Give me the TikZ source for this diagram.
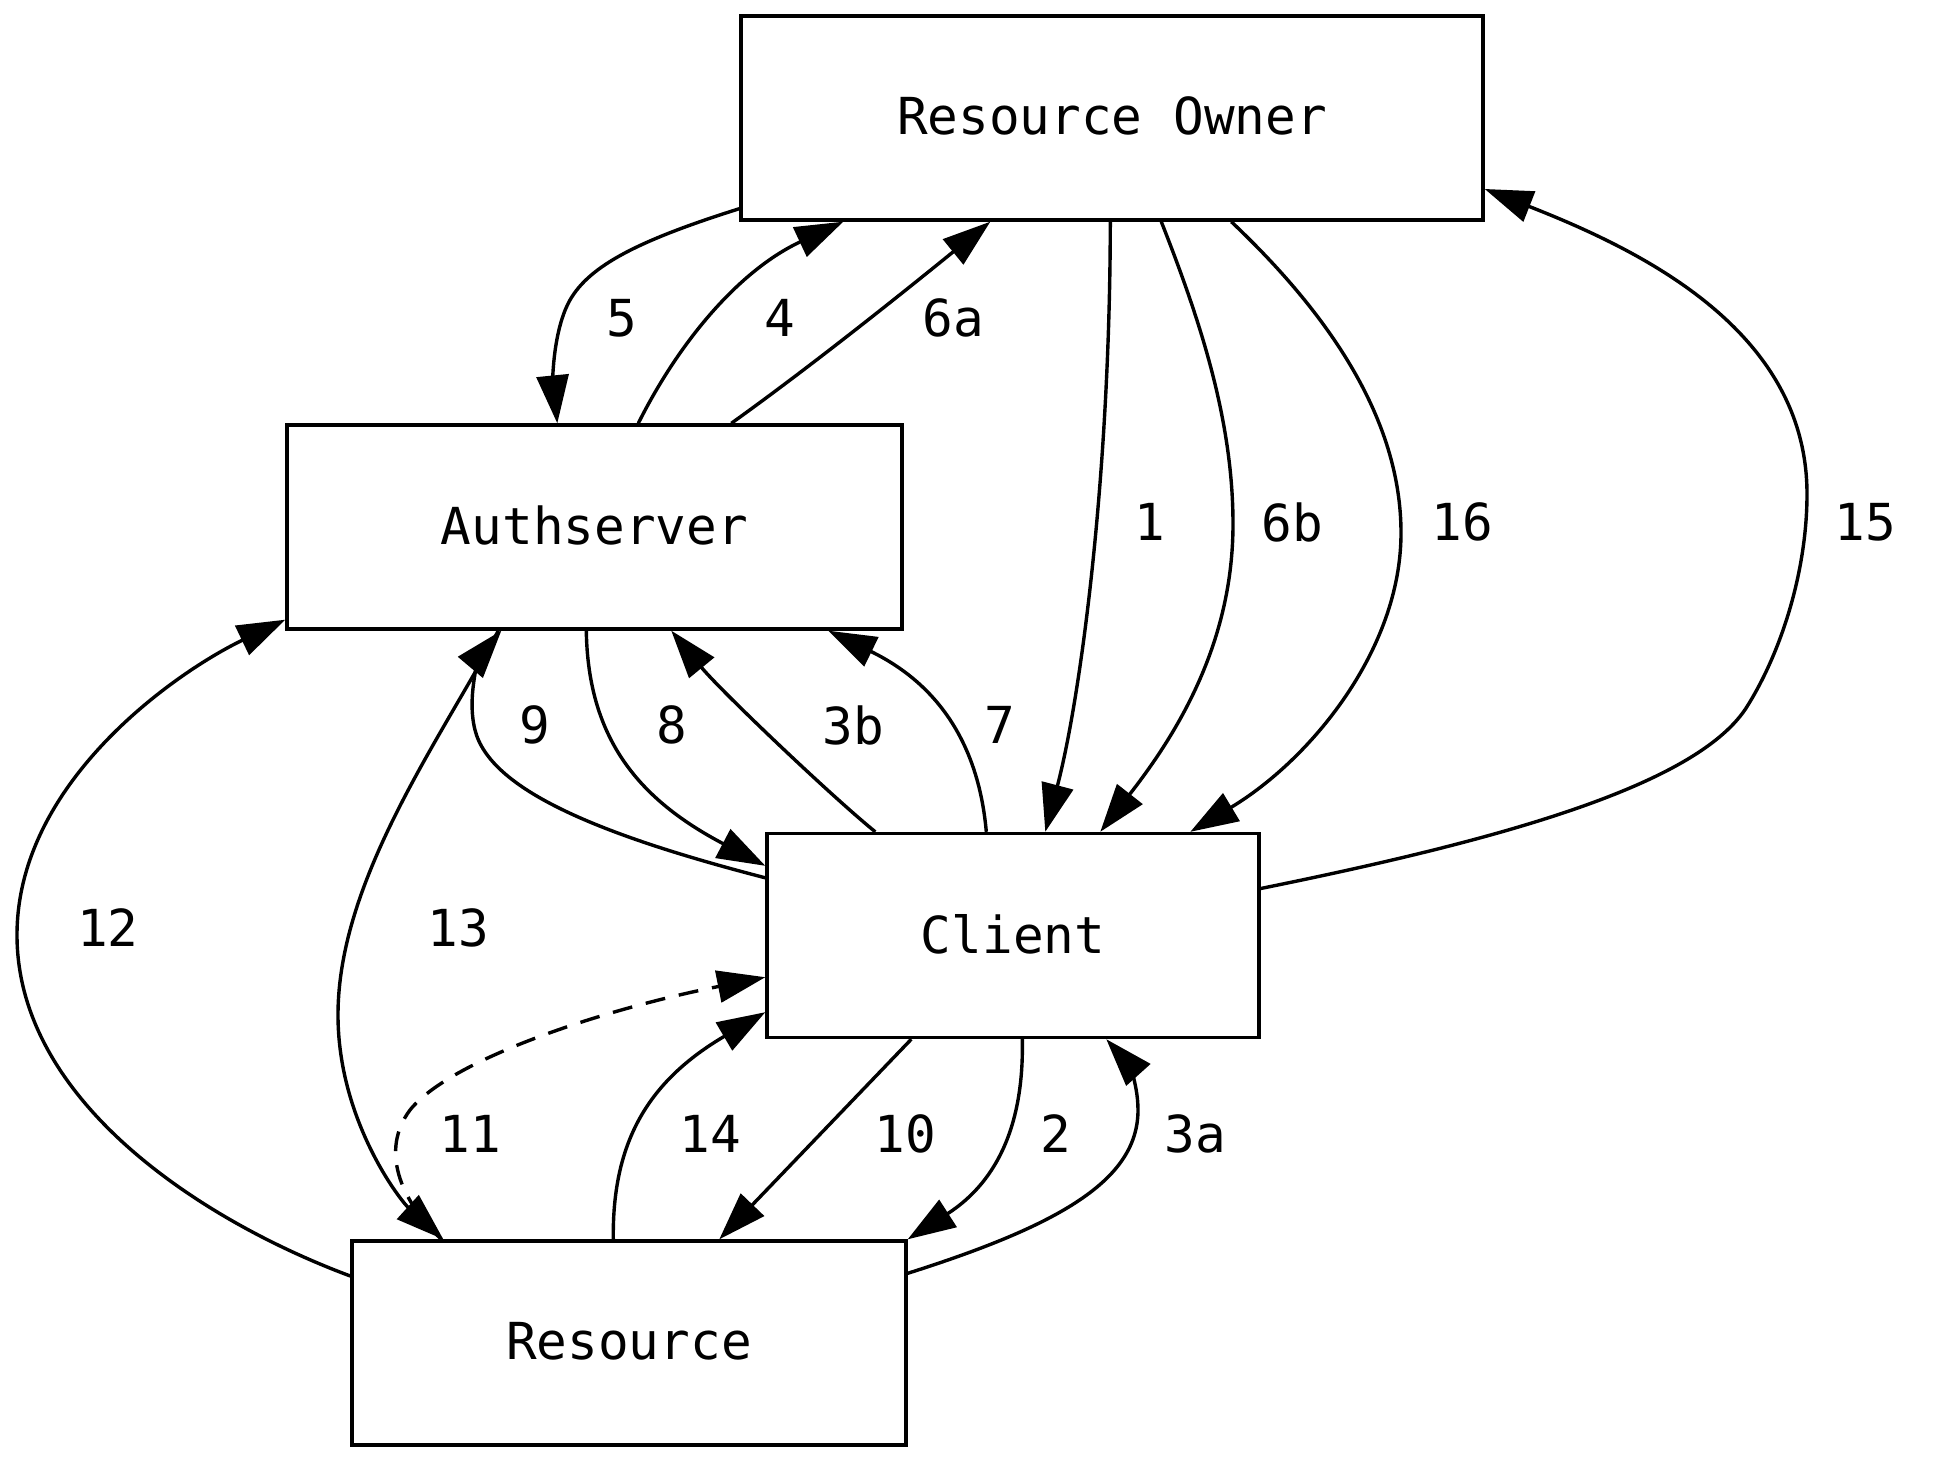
\documentclass[tikz,border=0pt]{standalone}
\usepackage{fontspec}
\setmonofont{DejaVu Sans Mono}
\usetikzlibrary{arrows.meta,calc}
\begin{document}
\begin{tikzpicture}[x=0.5pt,y=-0.5pt]
\tikzset{
  txt/.style={font=\ttfamily\fontsize{25.5}{30}\selectfont},
  nodebox/.style={txt, draw, line width=1.7pt, inner sep=0pt, minimum height=102pt},
  conn/.style={line width=1.7pt, -{Triangle[length=24pt,width=16pt]}},
  lbl/.style={txt, inner sep=0pt}
}
\useasboundingbox (0,0) rectangle (1950,1462);
% nodes
\node[nodebox, minimum width=371pt]   (ro) at (1112,118)   {\raisebox{2pt}{Resource Owner}};
\node[nodebox, minimum width=307.5pt] (au) at (594.5,527)  {\raisebox{2pt}{Authserver}};
\node[nodebox, minimum width=246pt]   (cl) at (1013,935.5) {\raisebox{2pt}{Client}};
\node[nodebox, minimum width=277pt]   (rs) at (629,1343)   {\raisebox{2pt}{Resource}};
% edges
% 1
\draw[conn] ($(ro.south west)+(371,0)$) .. controls (1110,480) and (1080,700) .. ($(cl.north west)+(280,0)$);
% 6b
\draw[conn] ($(ro.south west)+(422,0)$) .. controls (1200,320) and (1233,420) .. (1233,524)
  .. controls (1233,640) and (1180,730) .. ($(cl.north west)+(335,0)$);
% 16
\draw[conn] ($(ro.south west)+(492,0)$) .. controls (1330,315) and (1401,420) .. (1401,533)
  .. controls (1401,650) and (1310,760) .. ($(cl.north west)+(425,0)$);
% 15
\draw[conn] ($(cl.east)+(0,-47)$) .. controls (1500,840) and (1700,785) .. (1748,705)
  .. controls (1782,650) and (1807,570) .. (1807,494)
  .. controls (1807,330) and (1640,250) .. ($(ro.east)+(0,71)$);
% 5
\draw[conn] ($(ro.south west)+(0,-13)$) .. controls (640,240) and (590,265) .. (570,300)
  .. controls (553,330) and (553,380) .. ($(au.north west)+(272,0)$);
% 4
\draw[conn] ($(au.north west)+(353,0)$) .. controls (680,340) and (740,270) .. ($(ro.south west)+(104,0)$);
% 6a
\draw[conn] ($(au.north west)+(446,0)$) .. controls (810,367) and (900,295) .. ($(ro.south west)+(251,0)$);
% 3b
\draw[conn] ($(cl.north west)+(110,0)$) .. controls (830,795) and (720,690) .. ($(au.south west)+(386,0)$);
% 7
\draw[conn] ($(cl.north west)+(221,0)$) .. controls (980,760) and (950,690) .. ($(au.south west)+(543,0)$);
% 8
\draw[conn] ($(au.south west)+(301,0)$) .. controls (588,740) and (640,800) .. ($(cl.north west)+(0,34)$);
% 9
\draw[conn] ($(cl.north west)+(0,46)$) .. controls (600,835) and (490,790) .. (475,730)
  .. controls (465,690) and (485,650) .. ($(au.south west)+(216,0)$);
% 13
\draw[conn] ($(au.south west)+(213,0)$) .. controls (440,740) and (338,880) .. (338,1015)
  .. controls (338,1120) and (400,1200) .. ($(rs.north west)+(93,0)$);
% 12
\draw[conn] ($(rs.west)+(0,-67)$) .. controls (200,1220) and (17,1100) .. (17,935)
  .. controls (17,780) and (180,670) .. ($(au.south west)+(0,-11)$);
% 10
\draw[conn] ($(cl.south west)+(146,0)$) -- ($(rs.north west)+(369,0)$);
% 2
\draw[conn] ($(cl.south west)+(257,0)$) .. controls (1024,1120) and (1000,1180) .. (rs.north east);
% 3a
\draw[conn] ($(rs.north east)+(0,34)$) .. controls (1060,1225) and (1138,1180) .. (1138,1110)
  .. controls (1138,1080) and (1125,1060) .. ($(cl.south west)+(341,0)$);
% 14
\draw[conn] ($(rs.north west)+(263,0)$) .. controls (612,1140) and (650,1080) .. ($(cl.south west)+(0,-27)$);
% 11
\draw[conn, dash pattern=on 10pt off 7pt] ($(rs.north west)+(91,0)$) .. controls (400,1200) and (380,1150) .. (410,1110)
  .. controls (450,1060) and (600,1010) .. ($(cl.south west)+(0,-62)$);
% labels
\node[lbl] (l1)  at (1150,522) {1};
\node[lbl] (l6b) at (1292,522) {6b};
\node[lbl] (l16) at (1462,522) {16};
\node[lbl] (l15) at (1865,522) {15};
\node[lbl] (l5)  at (622,318)  {5};
\node[lbl] (l4)  at (780,318)  {4};
\node[lbl] (l6a) at (953,318)  {6a};
\node[lbl] (l9)  at (535,725)  {9};
\node[lbl] (l8)  at (672,725)  {8};
\node[lbl] (l3b) at (853,725)  {3b};
\node[lbl] (l7)  at (1000,725) {7};
\node[lbl] (l12) at (108,928)  {12};
\node[lbl] (l13) at (458,928)  {13};
\node[lbl] (l11) at (470,1134) {11};
\node[lbl] (l14) at (710,1134) {14};
\node[lbl] (l10) at (905,1134) {10};
\node[lbl] (l2)  at (1056,1134) {2};
\node[lbl] (l3a) at (1195,1134) {3a};
\end{tikzpicture}
\end{document}
